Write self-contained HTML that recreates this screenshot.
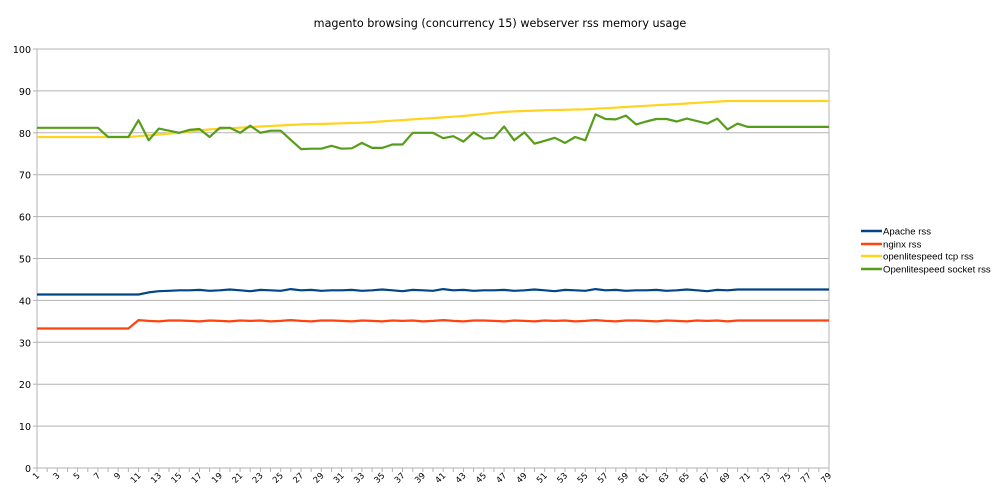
<!DOCTYPE html>
<html><head><meta charset="utf-8"><style>body{margin:0;background:#fff}svg{display:block;font-family:"DejaVu Sans","Liberation Sans",sans-serif}</style></head>
<body><svg id="s" width="1000" height="500" xmlns="http://www.w3.org/2000/svg">
<text x="500" y="27" font-size="11.2" text-anchor="middle" fill="#000">magento browsing (concurrency 15) webserver rss memory usage</text>
<g id="g"></g>
<g font-size="9.6" fill="#000" font-family="Liberation Sans, sans-serif">
<line x1="861" y1="231" x2="882" y2="231" stroke="#004586" stroke-width="2.5"/><text x="883" y="234.5">Apache rss</text>
<line x1="861" y1="244" x2="882" y2="244" stroke="#ff420e" stroke-width="2.5"/><text x="883" y="247.5">nginx rss</text>
<line x1="861" y1="256" x2="882" y2="256" stroke="#ffd320" stroke-width="2.5"/><text x="883" y="259.5">openlitespeed tcp rss</text>
<line x1="861" y1="269" x2="882" y2="269" stroke="#579d1c" stroke-width="2.5"/><text x="883" y="272.5">Openlitespeed socket rss</text>
</g>
</svg>
<script>
var g=document.getElementById('g'),h='';
var X0=37,X1=829,Y0=468,Y1=49;
function y(v){return Y0-(v/100)*(Y0-Y1);}
function x(i){return X0+i*(X1-X0)/78;}
for(var v=0;v<=100;v+=10){var yy=y(v).toFixed(1);h+='<line x1="'+X0+'" y1="'+yy+'" x2="'+X1+'" y2="'+yy+'" stroke="#b3b3b3"/>';h+='<text x="31" y="'+(+yy+4)+'" font-size="9.5" text-anchor="end">'+v+'</text>';h+='<line x1="33" y1="'+yy+'" x2="'+X0+'" y2="'+yy+'" stroke="#b3b3b3"/>';}
h+='<line x1="'+X0+'" y1="'+Y1+'" x2="'+X0+'" y2="'+Y0+'" stroke="#b3b3b3"/><line x1="'+X1+'" y1="'+Y1+'" x2="'+X1+'" y2="'+Y0+'" stroke="#b3b3b3"/>';
for(var i=0;i<79;i++){var xx=x(i).toFixed(1);h+='<line x1="'+xx+'" y1="'+Y0+'" x2="'+xx+'" y2="'+(Y0+4)+'" stroke="#b3b3b3"/>';
if(i%2==0)h+='<text font-size="8.5" text-anchor="end" transform="translate('+(+xx+3)+','+(Y0+8)+') rotate(-45)">'+(i+1)+'</text>';}
var green=[81.2,81.2,81.2,81.2,81.2,81.2,81.2,79,79,79,83,78.2,81,80.5,80,80.7,80.9,79,81.2,81.2,80,81.7,80,80.5,80.5,78.3,76.1,76.2,76.2,76.9,76.2,76.3,77.6,76.4,76.4,77.2,77.2,80,80,80,78.7,79.2,77.9,80.1,78.6,78.8,81.5,78.2,80.1,77.4,78.1,78.8,77.6,79,78.2,84.4,83.3,83.2,84.1,82,82.7,83.3,83.3,82.7,83.4,82.8,82.2,83.4,80.8,82.2];
while(green.length<79)green.push(81.4);
var yk=[[0,79],[9,79],[13,79.8],[17,80.8],[22,81.5],[26,82],[32,82.4],[37,83.2],[42,84],[46,85],[50,85.4],[54,85.6],[59,86.3],[64,87],[68,87.6],[78,87.6]];
function interp(k,i){for(var j=0;j<k.length-1;j++){if(i>=k[j][0]&&i<=k[j+1][0]){var t=(i-k[j][0])/(k[j+1][0]-k[j][0]);return k[j][1]+t*(k[j+1][1]-k[j][1]);}}return k[k.length-1][1];}
var yel=[],blue=[],red=[];
var bw=[0,0.1,-0.1,0,0.2,0,-0.2,0.1,0,-0.1,0.3,0,0.1,-0.1,0];
var rw=[0,-0.1,0.1,0,-0.1,0.1,0,0.1,-0.1,0,0.2,0,-0.1,0.1,0.1];
for(var i=0;i<79;i++){yel.push(interp(yk,i));
blue.push(i<11?41.4:(i==11?41.9:(i==12?42.2:(i>68?42.6:42.4+bw[i%15]))));
red.push(i<10?33.3:(i>68?35.2:35.1+rw[i%15]));}
function line(d,c){var p=d.map(function(v,i){return x(i).toFixed(1)+','+y(v).toFixed(1)}).join(' ');return '<polyline points="'+p+'" fill="none" stroke="'+c+'" stroke-width="2.2" stroke-linejoin="round"/>';}
h+=line(blue,'#004586')+line(red,'#ff420e')+line(yel,'#ffd320')+line(green,'#579d1c');
g.innerHTML=h;
</script></body></html>
